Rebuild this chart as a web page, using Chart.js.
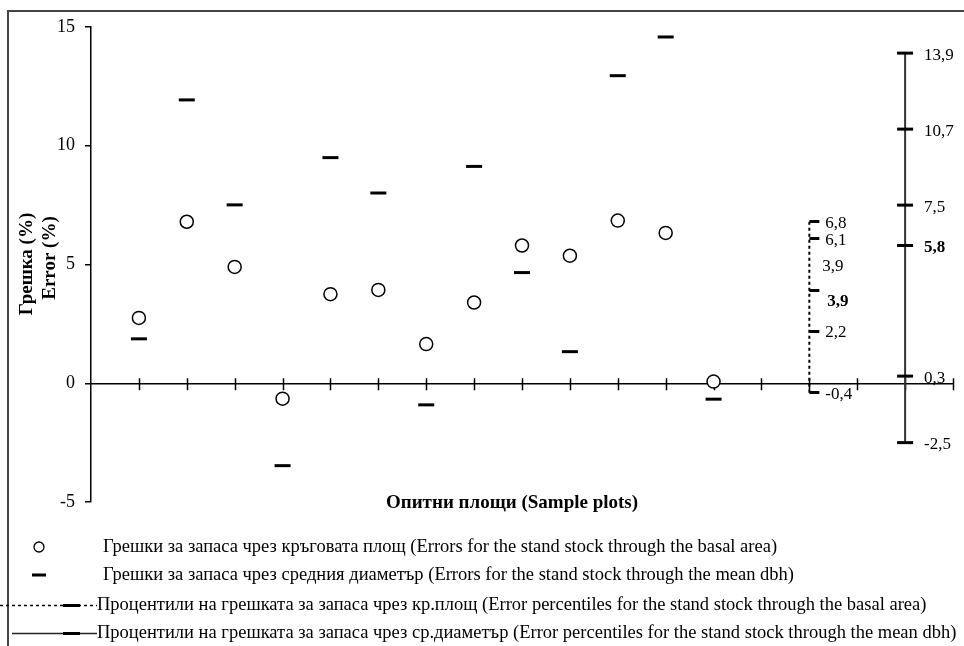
<!DOCTYPE html>
<html>
<head>
<meta charset="utf-8">
<title>Грешки за запаса</title>
<script src="https://cdn.jsdelivr.net/npm/chart.js@4.4.0/dist/chart.umd.min.js"></script>
<style>
  body { margin: 0; background: #fff; }
</style>
</head>
<body>
<canvas id="grafica" width="964" height="646"></canvas>
<script>
// опитни площи 1..13
var PLOTS = [1, 2, 3, 4, 5, 6, 7, 8, 9, 10, 11, 12, 13];
// грешки чрез кръговата площ (%)
var ERR_BASAL = [2.75, 6.8, 4.9, -0.65, 3.75, 3.93, 1.65, 3.4, 5.8, 5.37, 6.85, 6.33, 0.07];
// грешки чрез средния диаметър (%)
var ERR_DBH = [1.87, 11.93, 7.51, -3.47, 9.5, 8.01, -0.91, 9.13, 4.66, 1.33, 12.95, 14.58, -0.67];
// процентили
var PCT_BASAL = [-0.4, 2.2, 3.9, 6.1, 6.8];
var PCT_DBH = [-2.5, 0.3, 5.8, 7.5, 10.7, 13.9];
var MEDIAN_BASAL = 3.9;
var MEDIAN_DBH = 5.8;
var MEAN_BASAL = 3.9;
// колони на процентилите по оста x
var X_PCT_BASAL = 15;
var X_PCT_DBH = 17;

var Y_MIN = -5, Y_MAX = 15, Y_STEP = 5;
var X_MIN = 0, X_MAX = 18;

var LEGEND = [
  'Грешки за запаса чрез кръговата площ (Errors for the stand stock through the basal area)',
  'Грешки за запаса чрез средния диаметър (Errors for the stand stock through the mean dbh)',
  'Процентили на грешката за запаса чрез кр.площ (Error percentiles for the stand stock through the basal area)',
  'Процентили на грешката за запаса чрез ср.диаметър (Error percentiles for the stand stock through the mean dbh)'
];

var SERIF = '"Liberation Serif", "Times New Roman", serif';

function fmt(v) {
  return v.toFixed(1).replace('.', ',');
}

// тикче само надясно от пунктирната линия
var halfTick = document.createElement('canvas');
halfTick.width = 22;
halfTick.height = 3;
(function () {
  var c = halfTick.getContext('2d');
  c.fillStyle = '#000';
  c.fillRect(11, 0, 10, 3);
})();

var basalPoints = PLOTS.map(function (p, i) { return { x: p, y: ERR_BASAL[i] }; });
var dbhPoints = PLOTS.map(function (p, i) { return { x: p, y: ERR_DBH[i] }; });
var pctBasalPoints = PCT_BASAL.map(function (v) { return { x: X_PCT_BASAL, y: v }; });
var pctDbhPoints = PCT_DBH.map(function (v) { return { x: X_PCT_DBH, y: v }; });

var decor = {
  id: 'decor',
  beforeDraw: function (chart) {
    var ctx = chart.ctx;
    ctx.save();
    ctx.fillStyle = '#fff';
    ctx.fillRect(0, 0, chart.width, chart.height);
    ctx.strokeStyle = '#444';
    ctx.lineWidth = 2;
    ctx.strokeRect(8, 11, chart.width + 20, chart.height + 20);
    ctx.restore();
  },
  beforeDatasetsDraw: function (chart) {
    // тикчета, пресичащи оста x
    var ctx = chart.ctx;
    var xs = chart.scales.x, ys = chart.scales.y;
    var y0 = ys.getPixelForValue(0);
    ctx.save();
    ctx.strokeStyle = '#000';
    ctx.lineWidth = 1.5;
    for (var v = X_MIN + 1; v <= X_MAX; v++) {
      var px = Math.round(xs.getPixelForValue(v)) + 0.5;
      ctx.beginPath();
      ctx.moveTo(px, y0 - 5);
      ctx.lineTo(px, y0 + 7);
      ctx.stroke();
    }
    ctx.restore();
  },
  afterDatasetsDraw: function (chart) {
    var ctx = chart.ctx;
    var xs = chart.scales.x, ys = chart.scales.y;
    ctx.save();
    ctx.fillStyle = '#000';
    ctx.textBaseline = 'middle';
    ctx.textAlign = 'left';

    // надписи на процентилите (кр.площ)
    var bx = xs.getPixelForValue(X_PCT_BASAL) + 16;
    PCT_BASAL.forEach(function (v) {
      var bold = v === MEDIAN_BASAL;
      ctx.font = (bold ? 'bold ' : '') + '17px ' + SERIF;
      ctx.fillText(fmt(v), bx + (bold ? 2 : 0), ys.getPixelForValue(v) + (bold ? 11 : 2));
    });
    ctx.font = '17px ' + SERIF;
    ctx.fillText(fmt(MEAN_BASAL), bx - 3, ys.getPixelForValue(MEAN_BASAL) - 24);

    // надписи на процентилите (ср.диаметър)
    var dx = xs.getPixelForValue(X_PCT_DBH) + 19;
    PCT_DBH.forEach(function (v) {
      var bold = v === MEDIAN_DBH;
      ctx.font = (bold ? 'bold ' : '') + '17px ' + SERIF;
      ctx.fillText(fmt(v), dx, ys.getPixelForValue(v) + 2);
    });

    // заглавия на осите
    ctx.font = 'bold 19px ' + SERIF;
    ctx.textAlign = 'center';
    ctx.save();
    ctx.translate(27, 264);
    ctx.rotate(-Math.PI / 2);
    ctx.fillText('Грешка (%)', 0, 0);
    ctx.restore();
    ctx.save();
    ctx.translate(50, 258);
    ctx.rotate(-Math.PI / 2);
    ctx.fillText('Error (%)', 0, 0);
    ctx.restore();

    ctx.font = 'bold 19px ' + SERIF;
    ctx.fillText('Опитни площи (Sample plots)', 512, 503);

    // легенда
    var rows = [547, 575, 605, 633];
    ctx.textAlign = 'left';
    ctx.font = '18.5px ' + SERIF;
    ctx.strokeStyle = '#000';

    ctx.lineWidth = 1.3;
    ctx.beginPath();
    ctx.arc(39, rows[0], 5, 0, Math.PI * 2);
    ctx.stroke();

    ctx.fillRect(32, rows[1] - 1.5, 14, 3);

    ctx.lineWidth = 1.5;
    ctx.setLineDash([3, 3]);
    ctx.beginPath();
    ctx.moveTo(0, rows[2] + 0.5);
    ctx.lineTo(97, rows[2] + 0.5);
    ctx.stroke();
    ctx.setLineDash([]);
    ctx.fillRect(63, rows[2] - 1, 17, 3);

    ctx.strokeStyle = '#222';
    ctx.beginPath();
    ctx.moveTo(12, rows[3] + 0.5);
    ctx.lineTo(97, rows[3] + 0.5);
    ctx.stroke();
    ctx.fillRect(63, rows[3] - 1, 17, 3);

    ctx.fillText(LEGEND[0], 103, rows[0]);
    ctx.fillText(LEGEND[1], 103, rows[1]);
    ctx.fillText(LEGEND[2], 97, rows[2]);
    ctx.fillText(LEGEND[3], 97, rows[3]);
    ctx.restore();
  }
};

var ctx = document.getElementById('grafica').getContext('2d');
window.grafica = new Chart(ctx, {
  type: 'scatter',
  data: {
    datasets: [{
      label: 'basal',
      data: basalPoints,
      pointStyle: 'circle',
      pointRadius: 6.5,
      pointBorderWidth: 1.5,
      pointBorderColor: '#000',
      pointBackgroundColor: '#fff'
    }, {
      label: 'dbh',
      data: dbhPoints,
      pointStyle: 'line',
      pointRadius: 8,
      pointBorderWidth: 3,
      pointBorderColor: '#000'
    }, {
      label: 'pct basal',
      data: pctBasalPoints,
      showLine: true,
      borderColor: '#000',
      borderWidth: 2,
      borderDash: [3, 3],
      pointStyle: halfTick,
      pointRadius: 5
    }, {
      label: 'pct dbh',
      data: pctDbhPoints,
      showLine: true,
      borderColor: '#333',
      borderWidth: 2,
      pointStyle: 'line',
      pointRadius: 8,
      pointBorderWidth: 3,
      pointBorderColor: '#000'
    }]
  },
  options: {
    responsive: false,
    animation: false,
    layout: { padding: { left: 0, top: 27, right: 7, bottom: 144 } },
    plugins: {
      legend: { display: false },
      tooltip: { enabled: false }
    },
    scales: {
      x: {
        type: 'linear',
        position: { y: 0 },
        min: X_MIN,
        max: X_MAX,
        ticks: { display: false, stepSize: 1 },
        grid: { display: false },
        border: { display: true, color: '#000', width: 1.5 }
      },
      y: {
        type: 'linear',
        min: Y_MIN,
        max: Y_MAX,
        afterFit: function (scale) { scale.width = 91; },
        ticks: {
          stepSize: Y_STEP,
          color: '#000',
          padding: 10,
          font: { family: SERIF, size: 18 }
        },
        grid: { drawOnChartArea: false, tickLength: 6, color: '#000', lineWidth: 1.5 },
        border: { display: true, color: '#000', width: 1.5 }
      }
    }
  },
  plugins: [decor]
});
</script>
</body>
</html>
